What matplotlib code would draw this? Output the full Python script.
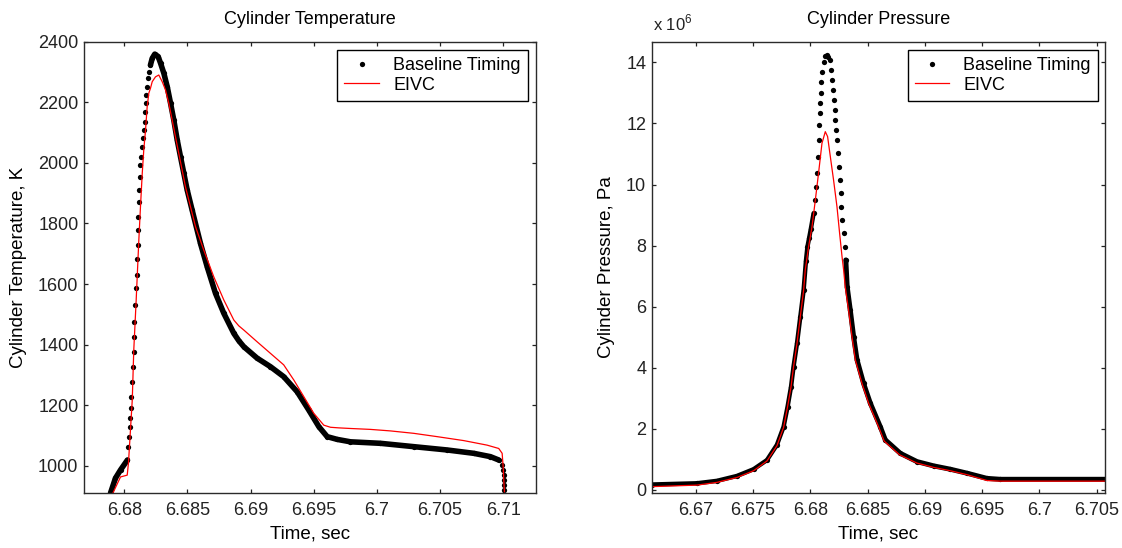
'''Cylinder temperature and pressure: baseline timing vs EIVC'''

import matplotlib
matplotlib.use('Agg')
import matplotlib.pyplot as plt
from matplotlib.ticker import FixedLocator, FuncFormatter

plt.rcParams['font.family'] = ['Liberation Sans', 'DejaVu Sans']
plt.rcParams['mathtext.fontset'] = 'custom'
plt.rcParams['mathtext.rm'] = 'Liberation Sans'

# Cylinder temperature, baseline timing (time in s, temperature in K)
t_temp_base = [6.67891, 6.67930, 6.67970, 6.68025,
               6.68028, 6.68036, 6.68044, 6.68049, 6.68055, 6.68056, 6.68063, 6.68067,
               6.68075, 6.68076, 6.68077, 6.68083, 6.68089, 6.68097, 6.68102, 6.68108,
               6.68110, 6.68112, 6.68115, 6.68120, 6.68123, 6.68128, 6.68136, 6.68142,
               6.68150, 6.68154, 6.68162, 6.68163, 6.68168, 6.68173, 6.68181, 6.68189,
               6.68194, 6.68207, 6.68221, 6.68241,
               6.68268, 6.68287, 6.68313, 6.68340, 6.68366, 6.68392, 6.68419, 6.68445,
               6.68471, 6.68498, 6.68537, 6.68603, 6.68656, 6.68722, 6.68788, 6.68867,
               6.68906, 6.68946, 6.69052, 6.69157, 6.69262, 6.69369, 6.69460, 6.69540,
               6.69606, 6.69685, 6.69790, 6.70028, 6.70291, 6.70556, 6.70766, 6.70898,
               6.70964,
               6.70991, 6.70998, 6.71002, 6.71004, 6.71006, 6.71009]
temp_base = [910, 959, 986, 1019,
             1062, 1096, 1129, 1158, 1190, 1228, 1277, 1327,
             1376, 1426, 1475, 1531, 1586, 1630, 1682, 1729,
             1778, 1822, 1870, 1911, 1954, 1993, 2020, 2053,
             2081, 2108, 2136, 2169, 2197, 2224, 2252, 2279,
             2301, 2323, 2345, 2359,
             2351, 2329, 2296, 2251, 2197, 2141, 2075, 2020,
             1966, 1910, 1844, 1734, 1657, 1569, 1503, 1437,
             1413, 1393, 1355, 1327, 1294, 1244, 1184, 1129,
             1096, 1087, 1079, 1074, 1063, 1052, 1041, 1030,
             1019,
             1002, 986, 969, 953, 936, 920]

# Cylinder temperature, EIVC
t_temp_eivc = [6.67909, 6.67970, 6.68023, 6.68033, 6.68063, 6.68075, 6.68094, 6.68115,
               6.68128, 6.68142, 6.68154, 6.68168, 6.68181, 6.68194, 6.68207, 6.68221,
               6.68247, 6.68273, 6.68300, 6.68326, 6.68352, 6.68379, 6.68405, 6.68431,
               6.68458, 6.68484, 6.68524, 6.68564, 6.68629, 6.68708, 6.68788, 6.68867,
               6.68906, 6.68946, 6.69052, 6.69157, 6.69262, 6.69342, 6.69421, 6.69500,
               6.69579, 6.69632, 6.69698, 6.69790, 6.69948, 6.70106, 6.70291, 6.70477,
               6.70687, 6.70872, 6.70964, 6.70991, 6.70999, 6.71004, 6.71009]
temp_eivc = [909, 963, 969, 1009, 1217, 1382, 1547, 1745,
             1855, 1965, 2042, 2108, 2185, 2230, 2246, 2268,
             2284, 2290, 2268, 2241, 2197, 2141, 2086, 2032,
             1976, 1921, 1855, 1789, 1712, 1624, 1547, 1481,
             1462, 1448, 1409, 1371, 1333, 1283, 1228, 1173,
             1134, 1127, 1125, 1123, 1120, 1115, 1107, 1096,
             1083, 1068, 1057, 1041, 997, 953, 914]

# Cylinder pressure, baseline timing (x 10^6 Pa)
t_pres_base = [6.66618, 6.67011, 6.67186, 6.67360, 6.67505, 6.67622, 6.67709, 6.67767,
               6.67802, 6.67832, 6.67854, 6.67884, 6.67913, 6.67942, 6.67962, 6.67975,
               6.67990, 6.68005, 6.68029,
               6.68044, 6.68052, 6.68058, 6.68064, 6.68073, 6.68079, 6.68081, 6.68087,
               6.68093, 6.68096, 6.68102, 6.68116, 6.68130, 6.68146, 6.68158, 6.68169,
               6.68181, 6.68190, 6.68199, 6.68204, 6.68213, 6.68219, 6.68228, 6.68234,
               6.68243, 6.68248, 6.68257, 6.68264, 6.68272, 6.68278, 6.68292, 6.68300,
               6.68310,
               6.68322, 6.68349, 6.68378, 6.68408, 6.68465, 6.68524, 6.68611, 6.68655,
               6.68786, 6.68931, 6.69076, 6.69222, 6.69368, 6.69542, 6.69658, 6.70575]
pres_base = [0.18, 0.22, 0.30, 0.46, 0.68, 0.98, 1.48, 2.07,
             2.73, 3.38, 4.04, 4.80, 5.67, 6.55, 7.50, 7.96,
             8.25, 8.55, 9.06,
             9.49, 9.93, 10.37, 10.91, 11.46, 11.95, 12.33, 12.66,
             12.99, 13.37, 13.69, 14.02, 14.20, 14.24, 14.18, 14.08,
             13.75, 13.42, 13.09, 12.77, 12.44, 12.11, 11.78, 11.46,
             11.02, 10.58, 10.15, 9.71, 9.27, 8.84, 8.40, 7.96,
             7.53,
             6.65, 5.89, 5.02, 4.26, 3.49, 2.84, 2.07, 1.64,
             1.20, 0.93, 0.79, 0.68, 0.55, 0.38, 0.35, 0.35]

# Cylinder pressure, EIVC (x 10^6 Pa)
t_pres_eivc = [6.66618, 6.67011, 6.67186, 6.67360, 6.67505, 6.67622, 6.67709, 6.67767,
               6.67802, 6.67832, 6.67854, 6.67884, 6.67913, 6.67942, 6.67956, 6.67985,
               6.68015, 6.68044, 6.68072, 6.68102, 6.68131, 6.68151, 6.68175, 6.68203,
               6.68233, 6.68256, 6.68277, 6.68291, 6.68305, 6.68334, 6.68364, 6.68393,
               6.68451, 6.68509, 6.68596, 6.68645, 6.68780, 6.68931, 6.69076, 6.69222,
               6.69368, 6.69542, 6.69658, 6.70575]
pres_eivc = [0.11, 0.16, 0.25, 0.41, 0.63, 0.95, 1.45, 2.05,
             2.73, 3.38, 4.04, 4.80, 5.67, 6.55, 7.20, 7.96,
             8.62, 9.49, 10.37, 11.35, 11.73, 11.57, 10.91, 10.15,
             9.27, 8.40, 7.64, 7.20, 6.65, 5.89, 5.02, 4.26,
             3.49, 2.84, 2.07, 1.60, 1.15, 0.88, 0.74, 0.63,
             0.50, 0.31, 0.29, 0.29]

# ticks
temp_xticks = [6.68, 6.685, 6.69, 6.695, 6.70, 6.705, 6.71]
temp_yticks = [1000, 1200, 1400, 1600, 1800, 2000, 2200, 2400]
pres_xticks = [6.67, 6.675, 6.68, 6.685, 6.69, 6.695, 6.70, 6.705]
pres_yticks = [0, 2, 4, 6, 8, 10, 12, 14]

FS = 13
edge = '#2b2b2b'


def style(ax, xticks, yticks):
    ax.xaxis.set_major_locator(FixedLocator(xticks))
    ax.yaxis.set_major_locator(FixedLocator(yticks))
    ax.xaxis.set_major_formatter(FuncFormatter(lambda v, p: '%g' % round(v, 4)))
    ax.yaxis.set_major_formatter(FuncFormatter(lambda v, p: '%g' % v))
    ax.tick_params(direction='in', top=True, right=True, length=3.2, width=0.9,
                   labelsize=FS, colors='#222222')
    ax.tick_params(axis='x', pad=6)
    ax.tick_params(axis='y', pad=4)
    for s in ax.spines.values():
        s.set_color(edge)
        s.set_linewidth(1.0)


fig = plt.figure(figsize=(11.22, 5.48), dpi=100)
ax1 = fig.add_axes([0.07487, 0.09982, 0.40285, 0.82409])
ax2 = fig.add_axes([0.58084, 0.09982, 0.40401, 0.82409])

# temperature plot: thick band where samples are dense, dots everywhere
ax1.plot(t_temp_base[:4], temp_base[:4], color='k', lw=4, solid_capstyle='round')
ax1.plot(t_temp_base[37:73], temp_base[37:73], color='k', lw=4, solid_capstyle='round')
ax1.plot(t_temp_base, temp_base, 'o', color='k', ms=3.8, mew=0, label='Baseline Timing')
ax1.plot(t_temp_eivc, temp_eivc, color='#ff0000', lw=0.9, label='EIVC')
ax1.set_xlim(6.67681, 6.71259)
ax1.set_ylim(909, 2400)
style(ax1, temp_xticks, temp_yticks)
ax1.set_title('Cylinder Temperature', fontsize=FS, pad=13)
ax1.set_xlabel('Time, sec', fontsize=FS + 0.5, labelpad=5)
ax1.set_ylabel('Cylinder Temperature, K', fontsize=FS + 0.5, labelpad=8)

# pressure plot
ax2.plot(t_pres_base[:19], pres_base[:19], color='k', lw=3.2, solid_capstyle='round')
ax2.plot(t_pres_base[51:], pres_base[51:], color='k', lw=3.6, solid_capstyle='round')
ax2.plot(t_pres_base, pres_base, 'o', color='k', ms=3.8, mew=0, label='Baseline Timing')
ax2.plot(t_pres_eivc, pres_eivc, color='#ff0000', lw=0.9, label='EIVC')
ax2.set_xlim(6.66616, 6.70572)
ax2.set_ylim(-0.108, 14.675)
style(ax2, pres_xticks, pres_yticks)
ax2.set_title('Cylinder Pressure', fontsize=FS, pad=13)
ax2.set_xlabel('Time, sec', fontsize=FS + 0.5, labelpad=5)
ax2.set_ylabel('Cylinder Pressure, Pa', fontsize=FS + 0.5, labelpad=8)
ax2.text(0.002, 1.026, r'x 10$^{6}$', transform=ax2.transAxes, fontsize=FS - 1,
         ha='left', va='baseline', color='#222222')

for ax, xa in ((ax1, 0.982), (ax2, 0.985)):
    leg = ax.legend(loc='upper right', bbox_to_anchor=(xa, 0.982), borderaxespad=0,
                    fontsize=FS, numpoints=1, handlelength=1.9, handletextpad=0.8,
                    labelspacing=0.15, borderpad=0.4, fancybox=False, framealpha=1)
    leg.get_frame().set_edgecolor('k')
    leg.get_frame().set_linewidth(1.0)

fig.savefig('out.png', dpi=100)
